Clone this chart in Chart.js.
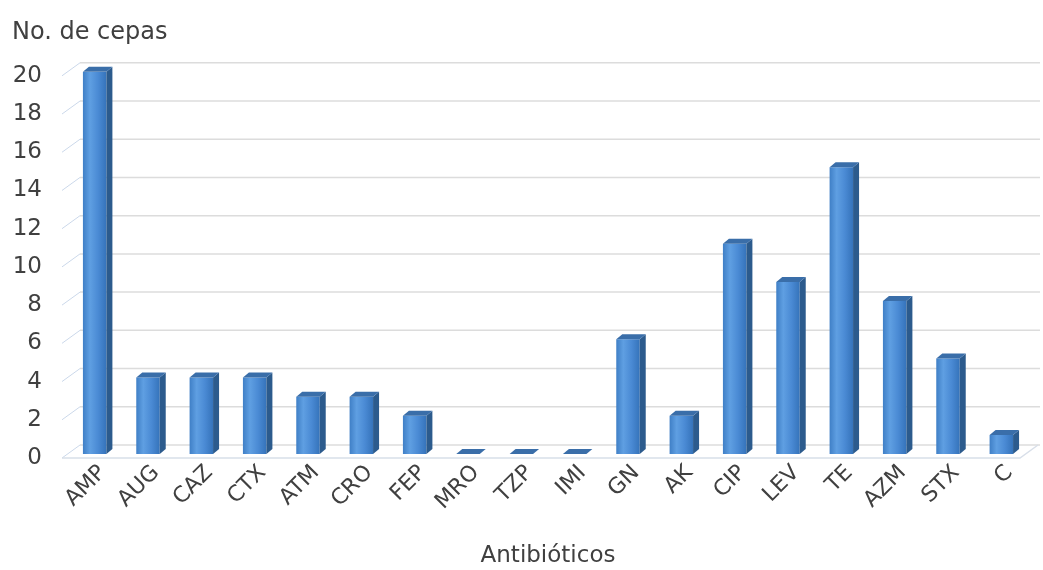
<!DOCTYPE html>
<html>
<head>
<meta charset="utf-8">
<script src="https://cdn.jsdelivr.net/npm/chart.js@4.4.1/dist/chart.umd.min.js"></script>
<style>
  html, body { margin: 0; padding: 0; background: #ffffff; }
  #wrap { width: 1043px; height: 570px; }
</style>
</head>
<body>
<div id="wrap"><canvas id="chart" width="1043" height="570"></canvas></div>
<script>
// Antibiotics tested and number of resistant strains for each
const categories = ['AMP', 'AUG', 'CAZ', 'CTX', 'ATM', 'CRO', 'FEP', 'MRO', 'TZP', 'IMI',
                    'GN', 'AK', 'CIP', 'LEV', 'TE', 'AZM', 'STX', 'C'];
const cepas = [20, 4, 4, 4, 3, 3, 2, 0, 0, 0, 6, 2, 11, 9, 15, 8, 5, 1];
const yMin = 0;
const yMax = 20;
const yStep = 2;

const FONT = 'DejaVu Sans';
const TEXT = '#404040';
const BAR_PCT = 0.44;
const DEPTH_X = 6;   // extrusion of the column sides
const DEPTH_Y = 5;

// Back-wall gridlines with slanted joins to the front edge
const wallPlugin = {
  id: 'wall',
  beforeDatasetsDraw(chart) {
    const { ctx, chartArea: ca, scales: { y } } = chart;
    const fx = ca.left - 6, bx = ca.left + 12;
    ctx.save();
    y.ticks.forEach(t => {
      const p = y.getPixelForValue(t.value);
      ctx.lineWidth = 1.5;
      ctx.strokeStyle = '#dcdcdc';
      ctx.beginPath();
      ctx.moveTo(bx, p - 9);
      ctx.lineTo(chart.width - 3, p - 9);
      ctx.stroke();
      ctx.lineWidth = 1;
      ctx.strokeStyle = '#cbd8ea';
      ctx.beginPath();
      ctx.moveTo(fx, p + 4);
      ctx.lineTo(bx, p - 9);
      ctx.stroke();
    });
    // front edge of the floor
    const p0 = y.getPixelForValue(yMin);
    ctx.strokeStyle = '#d8dfe9';
    ctx.lineWidth = 1.5;
    ctx.beginPath();
    ctx.moveTo(fx, p0 + 4);
    ctx.lineTo(ca.right - 8, p0 + 4);
    ctx.lineTo(ca.right + 10, p0 - 9);
    ctx.stroke();
    ctx.restore();
  }
};

// Side and top faces of each column, taken from the bar element geometry
const columnPlugin = {
  id: 'columns3d',
  afterDatasetsDraw(chart) {
    const { ctx } = chart;
    const meta = chart.getDatasetMeta(0);
    ctx.save();
    meta.data.forEach(bar => {
      const { x, y, base, width } = bar.getProps(['x', 'y', 'base', 'width'], true);
      const l = x - width / 2, r = x + width / 2;
      // side face
      ctx.fillStyle = '#2c5b8d';
      ctx.beginPath();
      ctx.moveTo(r, y);
      ctx.lineTo(r + DEPTH_X, y - DEPTH_Y);
      ctx.lineTo(r + DEPTH_X, base - DEPTH_Y);
      ctx.lineTo(r, base);
      ctx.closePath();
      ctx.fill();
      // top face
      ctx.fillStyle = '#3a6ea9';
      ctx.beginPath();
      ctx.moveTo(l, y);
      ctx.lineTo(l + DEPTH_X, y - DEPTH_Y);
      ctx.lineTo(r + DEPTH_X, y - DEPTH_Y);
      ctx.lineTo(r, y);
      ctx.closePath();
      ctx.fill();
    });
    ctx.restore();
  }
};

function frontFill(c) {
  const chart = c.chart;
  const xs = chart.scales.x;
  if (!xs || c.dataIndex === undefined || !chart.chartArea) return '#4a8cd4';
  const xc = xs.getPixelForValue(c.dataIndex);
  const half = (xs.width / categories.length) * BAR_PCT / 2;
  const g = chart.ctx.createLinearGradient(xc - half, 0, xc + half, 0);
  g.addColorStop(0, '#3f7fc6');
  g.addColorStop(0.3, '#5f9fe2');
  g.addColorStop(0.65, '#4a8ad4');
  g.addColorStop(1, '#3573ba');
  return g;
}

new Chart(document.getElementById('chart'), {
  type: 'bar',
  data: {
    labels: categories,
    datasets: [{
      data: cepas,
      backgroundColor: frontFill,
      borderWidth: 0,
      barPercentage: BAR_PCT,
      categoryPercentage: 1
    }]
  },
  plugins: [wallPlugin, columnPlugin],
  options: {
    responsive: false,
    devicePixelRatio: 1,
    animation: false,
    layout: { padding: { left: 12, right: 15, top: 0, bottom: 0 } },
    plugins: {
      legend: { display: false },
      tooltip: { enabled: false },
      title: {
        display: true,
        text: 'No. de cepas',
        align: 'start',
        color: TEXT,
        font: { family: FONT, size: 24, weight: 'normal' },
        padding: { top: 18, bottom: 25 }
      }
    },
    scales: {
      y: {
        min: yMin,
        max: yMax,
        ticks: {
          stepSize: yStep,
          color: TEXT,
          font: { family: FONT, size: 23 },
          padding: 26,
          labelOffset: 4
        },
        grid: { display: false, drawTicks: false },
        border: { display: false },
        afterFit(s) { s.width = 56; }
      },
      x: {
        ticks: {
          color: TEXT,
          font: { family: FONT, size: 22 },
          maxRotation: 45,
          minRotation: 45,
          autoSkip: false,
          labelOffset: 8,
          padding: 6
        },
        grid: { display: false, drawTicks: false },
        border: { display: false },
        title: {
          display: true,
          text: 'Antibióticos',
          color: TEXT,
          font: { family: FONT, size: 23 },
          padding: { top: 0, bottom: 0 }
        },
        afterFit(s) { s.height = 116; }
      }
    }
  }
});
</script>
</body>
</html>
